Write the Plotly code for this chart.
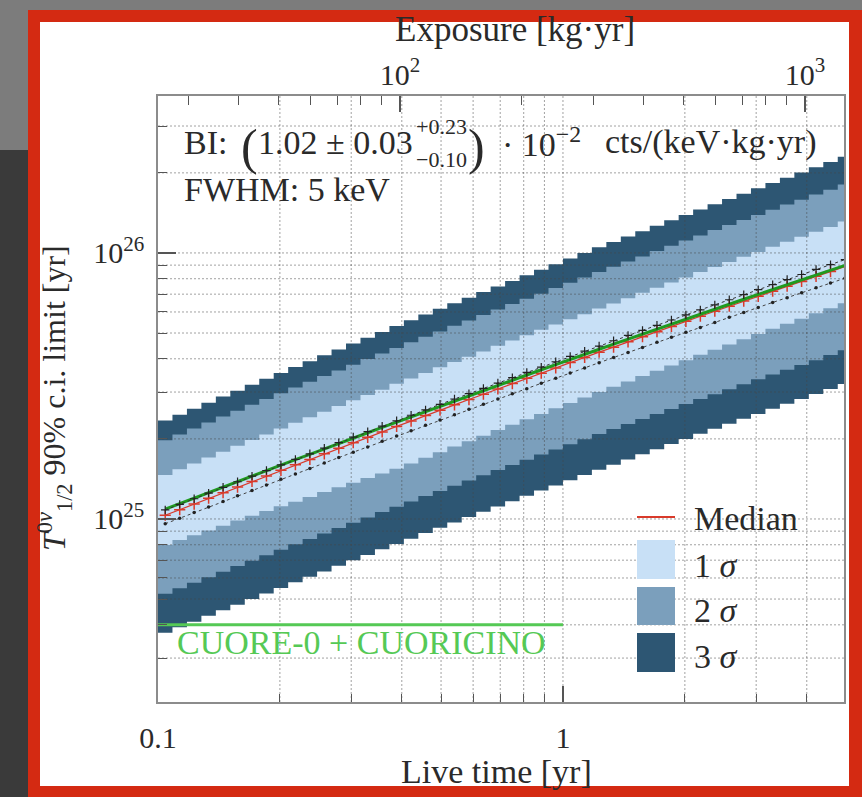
import numpy as np
import plotly.graph_objects as go

# ---------------- data ----------------
# live-time bin edges [yr]
live_time_edges = [0.1, 0.10857, 0.11788, 0.12798, 0.13895, 0.15086, 0.16379, 0.17783, 0.19307, 0.20962,
                   0.22758, 0.24709, 0.26827, 0.29126, 0.31623, 0.34333, 0.37276, 0.40471, 0.43940, 0.47706,
                   0.51795, 0.56234, 0.61054, 0.66287, 0.71969, 0.78137, 0.84834, 0.92106, 1.0, 1.0857,
                   1.1788, 1.2798, 1.3895, 1.5086, 1.6379, 1.7783, 1.9307, 2.0962, 2.2758, 2.4709,
                   2.6827, 2.9126, 3.1623, 3.4333, 3.7276, 4.0471, 4.3940, 4.7706, 5.1795]

# log10 of T_1/2 limit [yr], one value per bin
median_log10 = [25.014, 25.035, 25.056, 25.078, 25.099, 25.120, 25.141, 25.162, 25.183, 25.204,
                25.224, 25.245, 25.266, 25.287, 25.307, 25.327, 25.348, 25.368, 25.389, 25.409,
                25.429, 25.449, 25.469, 25.489, 25.509, 25.529, 25.548, 25.568, 25.588, 25.607,
                25.627, 25.646, 25.666, 25.685, 25.704, 25.724, 25.743, 25.762, 25.781, 25.800,
                25.819, 25.837, 25.856, 25.875, 25.893, 25.912, 25.930, 25.949]
upper3_log10 = [25.370, 25.392, 25.414, 25.437, 25.460, 25.482, 25.505, 25.527, 25.549, 25.571,
                25.593, 25.615, 25.637, 25.660, 25.681, 25.703, 25.725, 25.747, 25.769, 25.790,
                25.811, 25.832, 25.853, 25.874, 25.895, 25.916, 25.937, 25.958, 25.979, 26.000,
                26.021, 26.041, 26.062, 26.082, 26.102, 26.123, 26.143, 26.163, 26.183, 26.203,
                26.223, 26.243, 26.263, 26.283, 26.302, 26.322, 26.342, 26.362]
upper2_log10 = [25.296, 25.318, 25.340, 25.363, 25.385, 25.407, 25.429, 25.451, 25.473, 25.494,
                25.516, 25.537, 25.558, 25.580, 25.601, 25.622, 25.643, 25.664, 25.685, 25.705,
                25.726, 25.746, 25.767, 25.787, 25.808, 25.828, 25.847, 25.868, 25.888, 25.908,
                25.928, 25.948, 25.968, 25.987, 26.007, 26.027, 26.047, 26.066, 26.086, 26.105,
                26.124, 26.143, 26.162, 26.182, 26.200, 26.220, 26.238, 26.257]
upper1_log10 = [25.165, 25.187, 25.209, 25.231, 25.253, 25.275, 25.297, 25.318, 25.340, 25.362,
                25.382, 25.403, 25.425, 25.446, 25.466, 25.486, 25.508, 25.528, 25.549, 25.570,
                25.590, 25.610, 25.630, 25.651, 25.671, 25.691, 25.711, 25.731, 25.751, 25.770,
                25.791, 25.810, 25.830, 25.850, 25.869, 25.889, 25.908, 25.928, 25.947, 25.966,
                25.986, 26.004, 26.023, 26.042, 26.061, 26.080, 26.098, 26.118]
lower1_log10 = [24.902, 24.921, 24.939, 24.957, 24.975, 24.994, 25.012, 25.030, 25.048, 25.065,
                25.083, 25.101, 25.119, 25.136, 25.154, 25.171, 25.189, 25.209, 25.230, 25.251,
                25.272, 25.292, 25.313, 25.334, 25.354, 25.375, 25.395, 25.416, 25.436, 25.457,
                25.477, 25.497, 25.517, 25.537, 25.557, 25.577, 25.597, 25.617, 25.636, 25.656,
                25.676, 25.695, 25.715, 25.734, 25.753, 25.773, 25.792, 25.811]
lower2_log10 = [24.719, 24.740, 24.760, 24.781, 24.802, 24.823, 24.843, 24.864, 24.884, 24.905,
                24.925, 24.945, 24.966, 24.986, 25.006, 25.026, 25.046, 25.066, 25.086, 25.105,
                25.125, 25.145, 25.164, 25.184, 25.203, 25.223, 25.242, 25.261, 25.281, 25.300,
                25.319, 25.338, 25.357, 25.376, 25.395, 25.413, 25.432, 25.451, 25.469, 25.488,
                25.506, 25.525, 25.543, 25.561, 25.579, 25.597, 25.616, 25.634]
lower3_log10 = [24.572, 24.593, 24.614, 24.636, 24.657, 24.678, 24.699, 24.720, 24.741, 24.762,
                24.783, 24.803, 24.824, 24.845, 24.865, 24.886, 24.906, 24.926, 24.947, 24.967,
                24.987, 25.007, 25.027, 25.047, 25.067, 25.087, 25.107, 25.126, 25.146, 25.165,
                25.185, 25.204, 25.224, 25.243, 25.262, 25.282, 25.301, 25.320, 25.339, 25.358,
                25.377, 25.395, 25.414, 25.433, 25.451, 25.470, 25.489, 25.507]
green_curve_log10 = [25.037, 25.058, 25.078, 25.099, 25.120, 25.141, 25.161, 25.182, 25.203, 25.223,
                     25.243, 25.264, 25.284, 25.304, 25.324, 25.344, 25.364, 25.384, 25.404, 25.424,
                     25.444, 25.464, 25.483, 25.503, 25.522, 25.542, 25.561, 25.580, 25.600, 25.619,
                     25.638, 25.657, 25.676, 25.695, 25.714, 25.733, 25.751, 25.770, 25.789, 25.807,
                     25.826, 25.844, 25.862, 25.881, 25.899, 25.917, 25.935, 25.953]
black_plus_log10 = [25.034, 25.055, 25.076, 25.097, 25.119, 25.140, 25.161, 25.182, 25.203, 25.224,
                    25.245, 25.266, 25.287, 25.308, 25.328, 25.349, 25.369, 25.390, 25.410, 25.431,
                    25.451, 25.471, 25.491, 25.511, 25.531, 25.551, 25.571, 25.591, 25.611, 25.631,
                    25.650, 25.670, 25.690, 25.709, 25.728, 25.748, 25.767, 25.786, 25.805, 25.824,
                    25.843, 25.862, 25.881, 25.900, 25.919, 25.938, 25.956, 25.975]
black_dots_log10 = [24.982, 25.003, 25.024, 25.045, 25.066, 25.087, 25.107, 25.128, 25.149, 25.169,
                    25.190, 25.210, 25.231, 25.251, 25.271, 25.292, 25.312, 25.332, 25.352, 25.372,
                    25.392, 25.412, 25.431, 25.451, 25.471, 25.490, 25.510, 25.529, 25.549, 25.568,
                    25.587, 25.607, 25.626, 25.645, 25.664, 25.683, 25.702, 25.720, 25.739, 25.758,
                    25.776, 25.795, 25.814, 25.832, 25.850, 25.869, 25.887, 25.905]

cuore0_limit = 4.0e24            # yr
cuore0_time = [0.1, 1.0]         # yr
exposure_per_year = 252.6        # kg·yr per yr of live time

time_major = [0.1, 1]
time_major_labels = ["0.1", "1"]
time_minor = [0.2, 0.3, 0.4, 0.5, 0.6, 0.7, 0.8, 0.9, 2, 3, 4]
exposure_major = [100, 1000]
exposure_major_labels = ["10<sup>2</sup>", "10<sup>3</sup>"]
exposure_minor = [30, 40, 50, 60, 70, 80, 90, 200, 300, 400, 500, 600, 700, 800, 900]
t_major = [1e25, 1e26]
t_major_labels = ["10<sup>25</sup>", "10<sup>26</sup>"]
t_minor = [3e24, 4e24, 5e24, 6e24, 7e24, 8e24, 9e24,
           2e25, 3e25, 4e25, 5e25, 6e25, 7e25, 8e25, 9e25, 2e26, 3e26]

X_RANGE = [-1.0, 0.694]
Y_RANGE = [24.312, 26.590]

# ---------------- styling ----------------
FONT = "Liberation Serif"
TXT = "#2a2a2a"
C1, C2, C3 = "#c8e0f6", "#7b9fbc", "#2d5673"
RED = "#d93a2b"
GREEN_DARK = "#1f9a1f"
GREEN_LIGHT = "#55c955"
GRID = "rgba(70,70,70,0.5)"

W, H = 862, 797
ML, MR, MT, MB = 158, 18, 96, 95
PW, PH = W - ML - MR, H - MT - MB


def px(x):
    return (x - ML) / PW


def py(y):
    return (H - MB - y) / PH


def steps(vals):
    v = [10 ** a for a in vals]
    return v + [v[-1]]


centers = [float(np.sqrt(a * b)) for a, b in zip(live_time_edges[:-1], live_time_edges[1:])]

fig = go.Figure()


def band(lo, hi, color):
    fig.add_trace(go.Scatter(x=live_time_edges, y=steps(lo), mode="lines",
                             line=dict(width=0, shape="hv", color=color),
                             hoverinfo="skip", showlegend=False))
    fig.add_trace(go.Scatter(x=live_time_edges, y=steps(hi), mode="lines",
                             line=dict(width=0, shape="hv", color=color),
                             fill="tonexty", fillcolor=color,
                             hoverinfo="skip", showlegend=False))


band(lower3_log10, upper3_log10, C3)
band(lower2_log10, upper2_log10, C2)
band(lower1_log10, upper1_log10, C1)

# dotted grid drawn over the bands
x_lo, x_hi = 10 ** X_RANGE[0], 10 ** X_RANGE[1]
y_lo, y_hi = 10 ** Y_RANGE[0], 10 ** Y_RANGE[1]
gx, gy = [], []
for v in time_minor + time_major[1:]:
    gx += [v, v, None]
    gy += [y_lo, y_hi, None]
for v in t_minor + t_major:
    gx += [x_lo, x_hi, None]
    gy += [v, v, None]
fig.add_trace(go.Scatter(x=gx, y=gy, mode="lines",
                         line=dict(color=GRID, width=1, dash="2px,2px"),
                         hoverinfo="skip", showlegend=False))

# CUORE-0 + CUORICINO limit
fig.add_trace(go.Scatter(x=cuore0_time, y=[cuore0_limit] * len(cuore0_time), mode="lines",
                         line=dict(color=GREEN_LIGHT, width=3), hoverinfo="skip", showlegend=False))

# sensitivity curves
fig.add_trace(go.Scatter(x=centers, y=[10 ** v for v in black_dots_log10], mode="lines+markers",
                         line=dict(color="#444444", width=1, dash="dot"),
                         marker=dict(symbol="circle", size=3.5, color="#222222"),
                         hoverinfo="skip", showlegend=False))
fig.add_trace(go.Scatter(x=centers, y=[10 ** v for v in median_log10], mode="lines+markers",
                         line=dict(color=RED, width=1.2),
                         marker=dict(symbol="cross-thin", size=8, line=dict(width=1.5, color=RED)),
                         hoverinfo="skip", showlegend=False))
fig.add_trace(go.Scatter(x=centers, y=[10 ** v for v in green_curve_log10], mode="lines",
                         line=dict(color=GREEN_DARK, width=3),
                         hoverinfo="skip", showlegend=False))
fig.add_trace(go.Scatter(x=centers, y=[10 ** v for v in black_plus_log10], mode="lines+markers",
                         line=dict(color="#333333", width=1, dash="dot"),
                         marker=dict(symbol="cross-thin", size=6, line=dict(width=1.2, color="#222222")),
                         hoverinfo="skip", showlegend=False))

# invisible anchor for the exposure axis
fig.add_trace(go.Scatter(x=exposure_major, y=[t_major[0]] * 2, xaxis="x2", mode="markers",
                         marker=dict(opacity=0), hoverinfo="skip", showlegend=False))

axis_common = dict(showgrid=False, zeroline=False, ticks="inside", tickwidth=1.5,
                   tickcolor="#555555", layer="above traces",
                   tickfont=dict(family=FONT, size=30, color=TXT))

fig.update_layout(
    width=W, height=H,
    margin=dict(l=ML, r=MR, t=MT, b=MB, pad=0),
    paper_bgcolor="#3a3a3a", plot_bgcolor="white",
    font=dict(family=FONT, color=TXT),
    hovermode=False, showlegend=False,
    xaxis=dict(type="log", range=X_RANGE, showline=True, linecolor="#8c8c8c", linewidth=1.5,
               mirror=True, tickvals=time_major, ticktext=time_major_labels, ticklen=16,
               ticklabelstandoff=8,
               minor=dict(ticks="inside", ticklen=8, tickwidth=1.2, tickcolor="#555555",
                          tickvals=time_minor, showgrid=False),
               **axis_common),
    xaxis2=dict(type="log", overlaying="x", side="top", anchor="y",
                range=[float(np.log10(10 ** X_RANGE[0] * exposure_per_year)),
                       float(np.log10(10 ** X_RANGE[1] * exposure_per_year))],
                showline=False, tickvals=exposure_major, ticktext=exposure_major_labels, ticklen=16,
                ticklabelstandoff=4,
                minor=dict(ticks="inside", ticklen=9, tickwidth=1.2, tickcolor="#555555",
                           tickvals=exposure_minor, showgrid=False),
                **axis_common),
    yaxis=dict(type="log", range=Y_RANGE, showline=True, linecolor="#8c8c8c", linewidth=1.5,
               mirror=True, tickvals=t_major, ticktext=t_major_labels, ticklen=18,
               ticklabelstandoff=6,
               minor=dict(ticks="inside", ticklen=9, tickwidth=1.2, tickcolor="#555555",
                          tickvals=t_minor, showgrid=False),
               **axis_common),
)

# ---------------- slide frame (decoration) ----------------
shapes = [
    dict(type="rect", xref="paper", yref="paper", layer="below", line=dict(width=0),
         x0=px(0), x1=px(W), y0=py(0), y1=py(150), fillcolor="#7c7c7c"),
    dict(type="rect", xref="paper", yref="paper", layer="below", line=dict(width=0),
         x0=px(28), x1=px(W), y0=py(10), y1=py(H), fillcolor="#d42a12"),
    dict(type="rect", xref="paper", yref="paper", layer="below", line=dict(width=0),
         x0=px(40), x1=px(849), y0=py(22), y1=py(786), fillcolor="white"),
]
# manual legend
shapes.append(dict(type="line", xref="paper", yref="paper", layer="above",
                   x0=px(637), x1=px(675), y0=py(517), y1=py(517), line=dict(color=RED, width=2)))
for (y0, y1), col in zip([(540, 579), (587, 625), (633, 672)], [C1, C2, C3]):
    shapes.append(dict(type="rect", xref="paper", yref="paper", layer="above",
                       x0=px(637), x1=px(675), y0=py(y1), y1=py(y0),
                       fillcolor=col, line=dict(width=0)))
fig.update_layout(shapes=shapes)

NB = "\u00a0"
ann = []


def text(s, x, y, size=34, xanchor="left", color=TXT, angle=0):
    ann.append(dict(text=s, x=px(x), y=py(y), xref="paper", yref="paper", showarrow=False,
                    xanchor=xanchor, yanchor="middle", textangle=angle,
                    font=dict(family=FONT, size=size, color=color)))


text("Exposure [kg·yr]", 515, 30, size=35, xanchor="center")
text("Live time [yr]", 496, 771, size=34, xanchor="center")
text("<i>T</i><sup>0<i>ν</i></sup><sub>1/2</sub> 90% c.i. limit [yr]", 54, 398, size=32,
     xanchor="center", angle=-90)

# BI annotation
text("BI:", 182, 142)
text("(", 249, 147, size=50, xanchor="center")
text("1.02" + NB + "±" + NB + "0.03", 256, 142)
text("+0.23", 414, 126, size=22)
text("−0.10", 414, 159, size=22)
text(")", 476, 147, size=50, xanchor="center")
text("·" + NB + "10<sup>−2</sup>", 500, 142)
text("cts/(keV·kg·yr)", 710, 142, xanchor="center")
text("FWHM: 5 keV", 182, 189)

text("CUORE-0 + CUORICINO", 175, 642, size=34, color=GREEN_LIGHT)

# legend labels
text("Median", 692, 518)
text("1" + NB + "<i>σ</i>", 692, 565)
text("2" + NB + "<i>σ</i>", 692, 610)
text("3" + NB + "<i>σ</i>", 692, 656)

fig.update_layout(annotations=ann)

fig.write_html("out.html")
